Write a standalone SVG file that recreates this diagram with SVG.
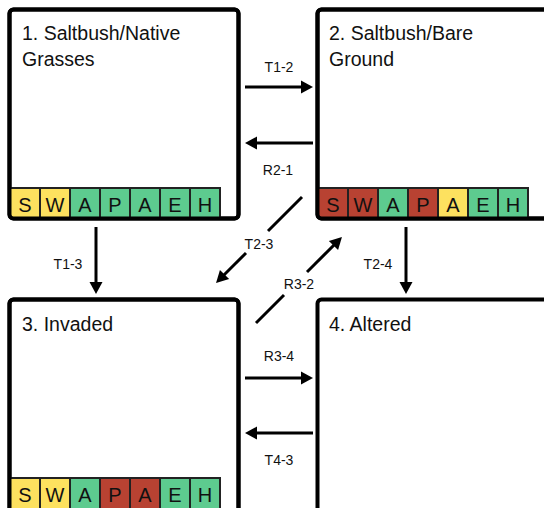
<svg xmlns="http://www.w3.org/2000/svg" width="544" height="508" viewBox="0 0 544 508">
<style>
.box{fill:#fff;stroke:#000;stroke-width:4}
.cell{stroke:#222;stroke-width:2}
.y{fill:#fde15f}.g{fill:#5dcb8f}.r{fill:#b84232}
.ct{font-family:"Liberation Sans",Arial,sans-serif;font-size:20px;fill:#111;text-anchor:middle}
.title{font-family:"Liberation Sans",Arial,sans-serif;font-size:19.5px;fill:#111}
.lbl{font-family:"Liberation Sans",Arial,sans-serif;font-size:14px;fill:#111;text-anchor:middle}
.arr{fill:none;stroke:#000;stroke-width:3;marker-end:url(#ah)}
.ln{fill:none;stroke:#000;stroke-width:3}
</style>
<defs>
<marker id="ah" markerUnits="userSpaceOnUse" markerWidth="12" markerHeight="13" refX="4" refY="6.5" orient="auto" overflow="visible">
<path d="M0,0 L12,6.5 L0,13 z" fill="#000"/>
</marker>
</defs>
<rect width="544" height="508" fill="#fff"/>

<g id="node1">
<rect class="box" x="9.5" y="9.5" width="229" height="209" rx="4"/>
<g>
<rect class="cell y" x="10" y="188" width="30" height="30"/>
<rect class="cell y" x="40" y="188" width="30" height="30"/>
<rect class="cell g" x="70" y="188" width="30" height="30"/>
<rect class="cell g" x="100" y="188" width="30" height="30"/>
<rect class="cell g" x="130" y="188" width="30" height="30"/>
<rect class="cell g" x="160" y="188" width="30" height="30"/>
<rect class="cell g" x="190" y="188" width="30" height="30"/>
<text class="ct" x="25" y="212">S</text>
<text class="ct" x="55" y="212">W</text>
<text class="ct" x="85" y="212">A</text>
<text class="ct" x="115" y="212">P</text>
<text class="ct" x="145" y="212">A</text>
<text class="ct" x="175" y="212">E</text>
<text class="ct" x="205" y="212">H</text>
</g>
<rect x="9.5" y="9.5" width="229" height="209" rx="4" fill="none" stroke="#000" stroke-width="4"/>
<text class="title" x="22" y="40">1. Saltbush/Native</text>
<text class="title" x="22" y="66">Grasses</text>
</g>

<g id="node2">
<rect class="box" x="317.5" y="9.5" width="260" height="209" rx="4"/>
<g>
<rect class="cell r" x="318" y="188" width="30" height="30"/>
<rect class="cell r" x="348" y="188" width="30" height="30"/>
<rect class="cell g" x="378" y="188" width="30" height="30"/>
<rect class="cell r" x="408" y="188" width="30" height="30"/>
<rect class="cell y" x="438" y="188" width="30" height="30"/>
<rect class="cell g" x="468" y="188" width="30" height="30"/>
<rect class="cell g" x="498" y="188" width="30" height="30"/>
<text class="ct" x="333" y="212">S</text>
<text class="ct" x="363" y="212">W</text>
<text class="ct" x="393" y="212">A</text>
<text class="ct" x="423" y="212">P</text>
<text class="ct" x="453" y="212">A</text>
<text class="ct" x="483" y="212">E</text>
<text class="ct" x="513" y="212">H</text>
</g>
<rect x="317.5" y="9.5" width="260" height="209" rx="4" fill="none" stroke="#000" stroke-width="4"/>
<text class="title" x="329" y="40">2. Saltbush/Bare</text>
<text class="title" x="329" y="66">Ground</text>
</g>

<g id="node3">
<rect class="box" x="9.5" y="299.5" width="229" height="240" rx="4"/>
<g>
<rect class="cell y" x="10" y="478" width="30" height="32"/>
<rect class="cell y" x="40" y="478" width="30" height="32"/>
<rect class="cell g" x="70" y="478" width="30" height="32"/>
<rect class="cell r" x="100" y="478" width="30" height="32"/>
<rect class="cell r" x="130" y="478" width="30" height="32"/>
<rect class="cell g" x="160" y="478" width="30" height="32"/>
<rect class="cell g" x="190" y="478" width="30" height="32"/>
<text class="ct" x="25" y="502">S</text>
<text class="ct" x="55" y="502">W</text>
<text class="ct" x="85" y="502">A</text>
<text class="ct" x="115" y="502">P</text>
<text class="ct" x="145" y="502">A</text>
<text class="ct" x="175" y="502">E</text>
<text class="ct" x="205" y="502">H</text>
</g>
<rect x="9.5" y="299.5" width="229" height="240" rx="4" fill="none" stroke="#000" stroke-width="4"/>
<text class="title" x="22" y="331">3. Invaded</text>
</g>

<g id="node4">
<rect class="box" x="317.5" y="299.5" width="260" height="240" rx="4"/>
<text class="title" x="329" y="331">4. Altered</text>
</g>

<g id="connectors">
<path class="arr" d="M245,87 L305,87"/>
<text class="lbl" x="279" y="72">T1-2</text>
<path class="arr" d="M313,143 L253,143"/>
<text class="lbl" x="278" y="175">R2-1</text>
<path class="arr" d="M96,227 L96,286"/>
<text class="lbl" x="68" y="269">T1-3</text>
<path class="arr" d="M406,227 L406,286"/>
<text class="lbl" x="378" y="269">T2-4</text>
<path class="arr" d="M245,378 L305,378"/>
<text class="lbl" x="279" y="361">R3-4</text>
<path class="arr" d="M313,433 L253,433"/>
<text class="lbl" x="279" y="465">T4-3</text>
<path class="ln" d="M302,197 L268,231"/>
<path class="arr" d="M246,253 L221.7,277.3"/>
<text class="lbl" x="259" y="249">T2-3</text>
<path class="ln" d="M256,323 L284,295"/>
<path class="arr" d="M307,272 L336.3,242.7"/>
<text class="lbl" x="299" y="289">R3-2</text>
</g>
</svg>
